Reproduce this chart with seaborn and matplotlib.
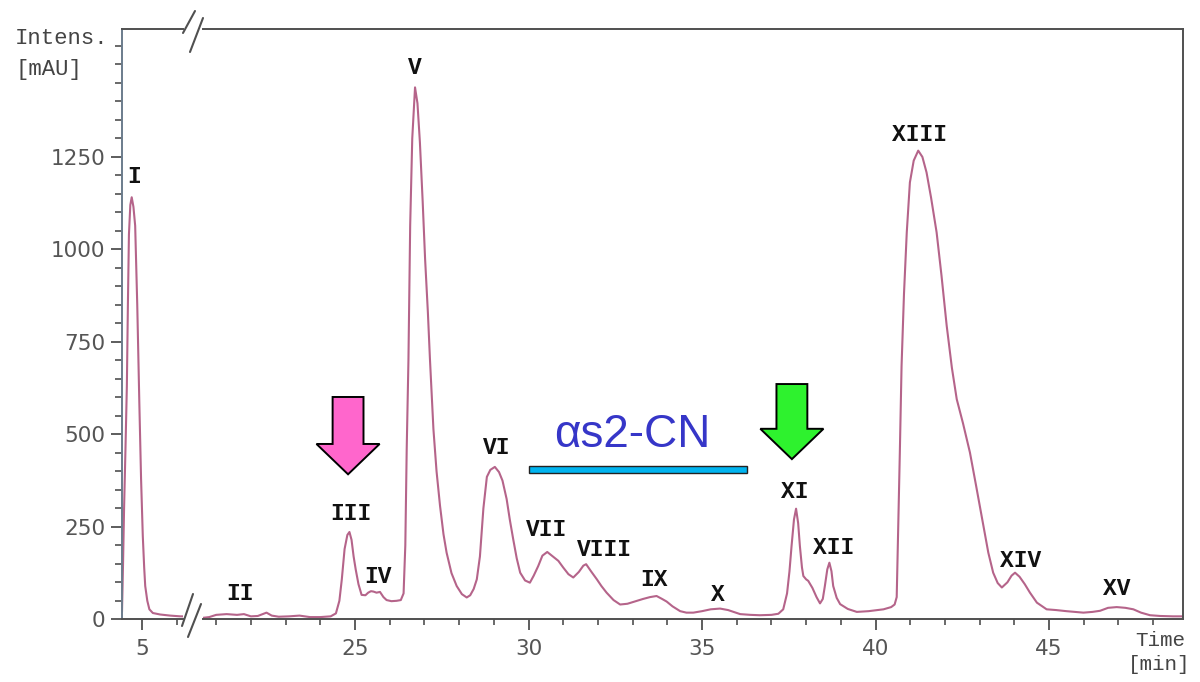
import matplotlib
matplotlib.use("Agg")
import matplotlib.pyplot as plt
import seaborn as sns
import pandas as pd
from matplotlib.lines import Line2D
from matplotlib.patches import FancyArrow, Rectangle
from matplotlib.ticker import MultipleLocator

# ---- trace (time in min, intensity in mAU) ----
early_time = [4.41, 4.44, 4.47, 4.51, 4.55, 4.58, 4.61, 4.65, 4.69, 4.74, 4.79,
              4.85, 4.91, 4.96, 5.01, 5.05, 5.08, 5.14, 5.20, 5.30, 5.51, 5.80,
              6.09, 6.17]
early_intens = [20, 150, 300, 460, 630, 850, 1040, 1120, 1141, 1115, 1064,
                850, 585, 380, 225, 140, 90, 50, 27, 17, 13, 10, 8, 8]

main_time = [20.62, 20.8, 21.0, 21.3, 21.6, 21.8, 22.0, 22.2, 22.45, 22.6, 22.8,
             23.1, 23.4, 23.7, 24.0, 24.3, 24.45, 24.55, 24.62, 24.70, 24.78,
             24.84, 24.90, 24.96, 25.02, 25.10, 25.19, 25.30, 25.38, 25.46,
             25.53, 25.62, 25.72, 25.82, 25.91, 26.05, 26.20, 26.32, 26.40,
             26.45, 26.49, 26.54, 26.59, 26.65, 26.73, 26.80, 26.87, 26.95,
             27.02, 27.10, 27.16, 27.26, 27.35, 27.45, 27.55, 27.64, 27.78,
             27.93, 28.08, 28.22, 28.32, 28.42, 28.51, 28.60, 28.70, 28.80,
             28.90, 29.03, 29.15, 29.25, 29.37, 29.46, 29.56, 29.66, 29.76,
             29.90, 30.04, 30.15, 30.28, 30.40, 30.54, 30.70, 30.86, 31.00,
             31.15, 31.29, 31.45, 31.58, 31.66, 31.80, 31.97, 32.10, 32.25,
             32.45, 32.64, 32.85, 33.02, 33.30, 33.50, 33.69, 33.85, 33.98,
             34.15, 34.37, 34.55, 34.75, 35.0, 35.25, 35.52, 35.75, 36.1, 36.4,
             36.67, 37.0, 37.2, 37.34, 37.45, 37.52, 37.58, 37.65, 37.71, 37.77,
             37.82, 37.88, 37.92, 38.00, 38.06, 38.18, 38.30, 38.40, 38.48,
             38.54, 38.61, 38.67, 38.73, 38.78, 38.88, 38.98, 39.2, 39.46, 39.8,
             40.23, 40.45, 40.55, 40.61, 40.65, 40.70, 40.75, 40.82, 40.90,
             40.99, 41.10, 41.23, 41.35, 41.47, 41.60, 41.76, 41.90, 42.05,
             42.20, 42.34, 42.52, 42.72, 42.90, 43.11, 43.25, 43.39, 43.52,
             43.64, 43.80, 43.92, 44.02, 44.15, 44.30, 44.45, 44.65, 44.93,
             45.2, 45.5, 45.99, 46.25, 46.47, 46.7, 46.95, 47.2, 47.43, 47.65,
             47.91, 48.2, 48.57, 48.86]
main_intens = [4, 6, 12, 14, 12, 14, 8, 9, 18, 10, 7,
               8, 10, 6, 6, 8, 16, 50, 108, 190, 228,
               236, 215, 170, 135, 95, 66, 65, 72, 76,
               75, 72, 74, 60, 52, 49, 50, 52, 70,
               200, 460, 700, 1064, 1300, 1438, 1395, 1290, 1130,
               974, 830, 703, 514, 400, 307, 230, 180, 125,
               90, 68, 59, 65, 82, 108, 170, 300, 385,
               404, 412, 398, 375, 325, 270, 216, 165, 126,
               105, 99, 118, 144, 172, 182, 170, 158, 140,
               122, 113, 128, 145, 149, 130, 108, 90, 72,
               52, 40, 42, 47, 55, 60, 63, 55, 48,
               35, 22, 18, 18, 22, 27, 29, 25, 14, 12,
               11, 12, 15, 27, 70, 130, 198, 270, 299, 260,
               198, 140, 117, 108, 104, 85, 60, 43, 55,
               90, 135, 153, 130, 90, 58, 41, 28, 20, 22,
               27, 33, 40, 60, 234, 450, 685, 880, 1046,
               1181, 1240, 1267, 1250, 1208, 1140, 1046, 930, 794,
               680, 595, 530, 451, 360, 252, 180, 126, 98,
               86, 100, 118, 126, 115, 95, 72, 45, 27,
               25, 22, 18, 20, 23, 31, 33, 31, 27, 18,
               11, 9, 8, 8]

# peak labels and where they sit
peak_names = ["I", "II", "III", "IV", "V", "VI", "VII", "VIII", "IX", "X",
              "XI", "XII", "XIII", "XIV", "XV"]
label_time = [4.76, 21.69, 24.88, 25.66, 26.73, 29.09, 30.53, 32.18, 33.62,
              35.46, 37.68, 38.80, 41.28, 44.19, 46.96]
label_intens = [1196, 70, 287, 116, 1491, 465, 244, 189, 108, 68, 346, 195,
                1310, 160, 84]

y_major = [0, 250, 500, 750, 1000, 1250]
early_ticks = [5]
main_ticks = [25, 30, 35, 40, 45]

# annotation placement (data units of the main axis)
pink_arrow = dict(x=24.80, top=601, tip=392)
green_arrow = dict(x=37.59, top=636, tip=433)
bar_span = (30.01, 36.30)
bar_band = (395, 414)
region_text = "αs2-CN"
region_text_pos = (32.98, 465)

# ---- styling ----
sns.set_style("ticks")
plt.rcParams["font.family"] = ["DejaVu Sans"]

W, H = 1200, 682
LINE = "#b5648a"
AXC = "#505050"
TICKC = "#555555"
MONO = "Liberation Mono"


def fx(px):
    return px / W


def fy(py):
    return 1 - py / H


fig = plt.figure(figsize=(W / 100, H / 100), dpi=100)
ax_early = fig.add_axes([fx(122), fy(619.3), (183 - 122) / W, (619.3 - 29.3) / H])
ax_main = fig.add_axes([fx(203), fy(619.3), (1183 - 203) / W, (619.3 - 29.3) / H])

early = pd.DataFrame({"time": early_time, "intens": early_intens})
main = pd.DataFrame({"time": main_time, "intens": main_intens})
sns.lineplot(data=early, x="time", y="intens", ax=ax_early, color=LINE, lw=1.5)
sns.lineplot(data=main, x="time", y="intens", ax=ax_main, color=LINE, lw=1.5)

for ax in (ax_early, ax_main):
    ax.set_ylim(0, 1595)
    ax.set_xlabel("")
    ax.set_ylabel("")
    ax.xaxis.set_minor_locator(MultipleLocator(1))
    ax.tick_params(axis="x", which="major", length=8, width=1.3, color=AXC,
                   labelsize=15.5, labelcolor=TICKC, pad=6)
    ax.tick_params(axis="x", which="minor", length=4, width=1.2, color=AXC)
    for s in ax.spines.values():
        s.set_color(AXC)
        s.set_linewidth(1.4)

ax_early.set_xlim(4.41, 6.17)
ax_early.set_xticks(early_ticks)
ax_early.spines["right"].set_visible(False)
ax_early.spines["left"].set_color("#6b7c8c")
ax_early.set_yticks(y_major)
ax_early.yaxis.set_minor_locator(MultipleLocator(50))
ax_early.tick_params(axis="y", which="major", length=8, width=1.3, color=AXC,
                     labelsize=15.5, labelcolor=TICKC, pad=4)
ax_early.tick_params(axis="y", which="minor", length=5, width=1.2, color=AXC)

ax_main.set_xlim(20.62, 48.86)
ax_main.set_xticks(main_ticks)
ax_main.spines["left"].set_visible(False)
ax_main.tick_params(axis="y", which="both", left=False, labelleft=False)
ax_main.spines["right"].set_visible(True)

# peak labels
for i, name in enumerate(peak_names):
    ax = ax_early if i == 0 else ax_main
    ax.text(label_time[i], label_intens[i], name, ha="center", va="center",
            fontsize=16.5, fontweight="bold", family=MONO, color="#111111")

# block arrows and the alpha-s2 casein bar
for arr, fc in ((pink_arrow, "#ff66cc"), (green_arrow, "#2ef22e")):
    ax_main.add_patch(FancyArrow(arr["x"], arr["top"], 0, arr["tip"] - arr["top"],
                                 width=0.89, head_width=1.82, head_length=82,
                                 length_includes_head=True, fc=fc, ec="black",
                                 lw=1.4, zorder=5))
ax_main.add_patch(Rectangle((bar_span[0], bar_band[0]), bar_span[1] - bar_span[0],
                            bar_band[1] - bar_band[0], fc="#00b4f0", ec="#222222",
                            lw=1.0, zorder=5))
ax_main.text(region_text_pos[0], region_text_pos[1], region_text, ha="center",
             va="baseline", fontsize=33, family="Liberation Sans", color="#3636c8")

# axis captions
fig.text(fx(15), fy(38), "Intens.", ha="left", va="center", fontsize=16,
         family=MONO, color="#444444")
fig.text(fx(15), fy(70), "[mAU]", ha="left", va="center", fontsize=16,
         family=MONO, color="#444444")
fig.text(fx(1185), fy(640), "Time", ha="right", va="center", fontsize=15,
         family=MONO, color="#444444")
fig.text(fx(1190), fy(665), "[min]", ha="right", va="center", fontsize=15,
         family=MONO, color="#444444")

# axis break marks
for (x0, y0, x1, y1) in [(183, 33, 195, 11), (190, 52, 203, 18),
                         (182, 626, 193, 594), (188, 637, 201, 604)]:
    fig.add_artist(Line2D([fx(x0), fx(x1)], [fy(y0), fy(y1)], color=AXC, lw=1.5))

fig.savefig("out.png", dpi=100)
